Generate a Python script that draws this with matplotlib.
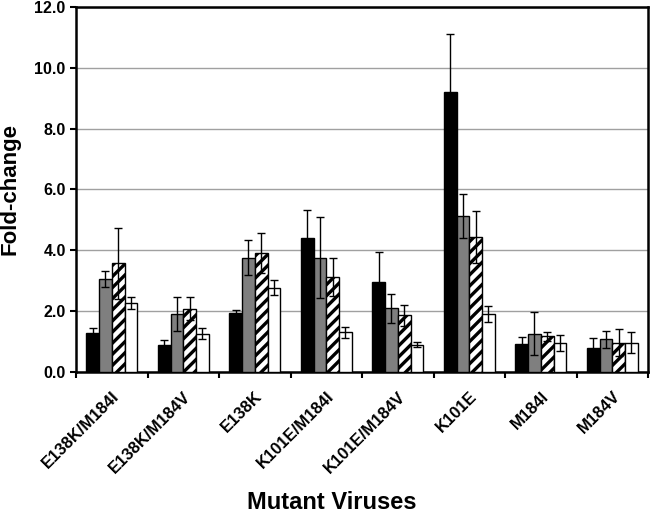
import numpy as np
import matplotlib
matplotlib.use("Agg")
import matplotlib.pyplot as plt

plt.rcParams['font.family'] = ['Liberation Sans', 'DejaVu Sans']
plt.rcParams['font.weight'] = 'bold'
plt.rcParams['hatch.linewidth'] = 2.4

# data
viruses = ["E138K/M184I", "E138K/M184V", "E138K", "K101E/M184I",
           "K101E/M184V", "K101E", "M184I", "M184V"]
black_vals = [1.29, 0.90, 1.93, 4.42, 2.95, 9.21, 0.92, 0.80]
black_err = [0.14, 0.15, 0.10, 0.91, 1.00, 1.91, 0.22, 0.31]
gray_vals = [3.05, 1.91, 3.76, 3.76, 2.09, 5.14, 1.26, 1.08]
gray_err = [0.27, 0.57, 0.57, 1.34, 0.48, 0.72, 0.71, 0.28]
hatch_vals = [3.57, 2.08, 3.92, 3.13, 1.86, 4.44, 1.17, 0.96]
hatch_err = [1.16, 0.37, 0.66, 0.62, 0.34, 0.85, 0.14, 0.45]
white_vals = [2.26, 1.26, 2.77, 1.30, 0.89, 1.90, 0.96, 0.96]
white_err = [0.20, 0.17, 0.24, 0.17, 0.08, 0.27, 0.26, 0.34]
yticks = [0, 2, 4, 6, 8, 10, 12]

fig = plt.figure(figsize=(6.5, 5.22), dpi=100, facecolor="white")
ax = fig.add_axes([0.117, 0.2874, 0.88, 0.6992])

x = np.arange(len(viruses))
w = 0.178
series = [
    (black_vals, black_err, "black", ""),
    (gray_vals, gray_err, "#7f7f7f", ""),
    (hatch_vals, hatch_err, "white", "///"),
    (white_vals, white_err, "white", ""),
]
for i, (vals, err, col, hat) in enumerate(series):
    pos = x + (i - 1.5) * w
    ax.bar(pos, vals, w, color=col, edgecolor="black", linewidth=1,
           hatch=hat, zorder=3)
    ax.errorbar(pos, vals, yerr=err, fmt="none", ecolor="black",
                elinewidth=1, capsize=3, capthick=1, zorder=4)

ax.set_xlim(-0.5, len(viruses) - 0.5)
ax.set_ylim(0, 12)
ax.set_yticks(yticks)
ax.set_yticklabels(["%.1f" % v for v in yticks], fontsize=11.5, fontweight="bold")
ax.yaxis.grid(True, color="#a0a0a0", linewidth=1, zorder=0)

# category labels centred, tick marks between categories
ax.set_xticks(x)
ax.set_xticklabels(viruses, rotation=45, ha="right", va="top",
                   rotation_mode="anchor", fontsize=12, fontweight="bold")
ax.tick_params(axis="x", which="major", length=0, pad=12)
ax.set_xticks(np.arange(len(viruses) + 1) - 0.5, minor=True)
ax.tick_params(axis="x", which="minor", length=4, width=1.5, direction="out")
ax.tick_params(axis="y", length=4, width=1.5, direction="out")

for s in ax.spines.values():
    s.set_linewidth(1.8)
    s.set_color("black")

ax.set_ylabel("Fold-change", fontsize=16, fontweight="bold", labelpad=10)
fig.text(0.51, 0.015, "Mutant Viruses", ha="center", va="bottom",
         fontsize=17, fontweight="bold")

fig.savefig("out.png", dpi=100, facecolor="white")
